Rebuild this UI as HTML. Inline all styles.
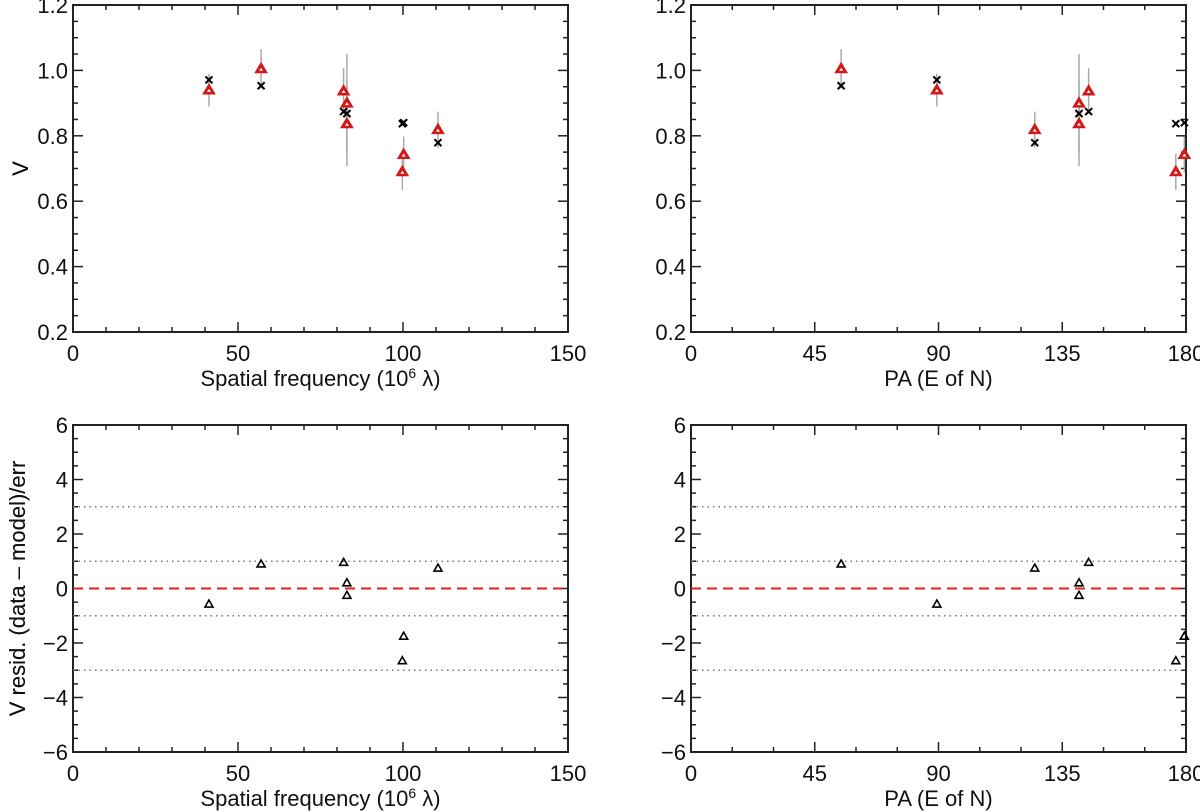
<!DOCTYPE html>
<html><head><meta charset="utf-8"><style>
body{margin:0;background:#fff}
svg{display:block;font-family:"Liberation Sans",Arial,sans-serif}
</style></head><body>
<svg id="chart" width="1200" height="812" viewBox="0 0 1200 812" xmlns="http://www.w3.org/2000/svg"></svg>
<script>
const spatialFreq = [41.2, 57, 82, 83, 83, 99.8, 100.2, 110.6];
const positionAngle = [89.4, 54.6, 144.6, 141.1, 141.1, 176.3, 179.4, 125];
const visData = [0.94, 1.005, 0.937, 0.90, 0.837, 0.69, 0.743, 0.819];
const visErr = [0.05, 0.06, 0.07, 0.15, 0.13, 0.055, 0.055, 0.055];
const visModel = [0.971, 0.953, 0.874, 0.868, 0.868, 0.837, 0.84, 0.779];
const residuals = [-0.57, 0.9, 0.96, 0.21, -0.25, -2.65, -1.75, 0.75];
const freqTicks = [0, 50, 100, 150];
const paTicks = [0, 45, 90, 135, 180];
const visTicks = [0.2, 0.4, 0.6, 0.8, 1.0, 1.2];
const residTicks = [-6, -4, -2, 0, 2, 4, 6];
const residGuides = [-3, -1, 1, 3];

const NS = "http://www.w3.org/2000/svg";
const svg = document.getElementById('chart');
function mk(tag, attrs, parent) {
  const e = document.createElementNS(NS, tag);
  for (const k in attrs) e.setAttribute(k, attrs[k]);
  (parent || svg).appendChild(e);
  return e;
}
function panel(name, left, right, top, bottom, xmin, xmax, ymin, ymax, xTicks, xMinor, yTicks, yMinor, xTitle, yTitle, yDec) {
  const g = mk('g', {});
  
  
  const sx = v => left + (v - xmin) / (xmax - xmin) * (right - left);
  const sy = v => bottom - (v - ymin) / (ymax - ymin) * (bottom - top);
  const frame = mk('rect', {x: left, y: top, width: right - left, height: bottom - top, fill: 'none', stroke: '#222', 'stroke-width': 2}, g);
  
  
  for (let v = xmin; v <= xmax + 1e-9; v += xMinor) {
    const major = xTicks.some(t => Math.abs(t - v) < 1e-6);
    const L = major ? 10 : 5;
    mk('line', {x1: sx(v), x2: sx(v), y1: bottom, y2: bottom - L, stroke: '#222', 'stroke-width': 1.5}, g);
    mk('line', {x1: sx(v), x2: sx(v), y1: top, y2: top + L, stroke: '#222', 'stroke-width': 1.5}, g);
  }
  for (let v = ymin; v <= ymax + 1e-9; v += yMinor) {
    const major = yTicks.some(t => Math.abs(t - v) < 1e-6);
    const L = major ? 10 : 5;
    mk('line', {x1: left, x2: left + L, y1: sy(v), y2: sy(v), stroke: '#222', 'stroke-width': 1.5}, g);
    mk('line', {x1: right, x2: right - L, y1: sy(v), y2: sy(v), stroke: '#222', 'stroke-width': 1.5}, g);
  }
  xTicks.forEach(t => {
    const tx = mk('text', {x: sx(t), y: bottom + 29, 'font-size': 22, 'text-anchor': 'middle', fill: '#111'}, g);
    tx.textContent = t;
    
    
  });
  yTicks.forEach(t => {
    const tx = mk('text', {x: left - 5, y: sy(t) + 8, 'font-size': 22, 'text-anchor': 'end', fill: '#111'}, g);
    tx.textContent = yDec ? t.toFixed(1) : String(t).replace('-', '\u2212');
    
    
  });
  const xt = mk('text', {x: (left + right) / 2, y: bottom + 54, 'font-size': 22, 'text-anchor': 'middle', fill: '#111'}, g);
  xt.innerHTML = xTitle;
  
  
  const yt = mk('text', {x: 0, y: 0, 'font-size': 22, 'text-anchor': 'middle', fill: '#111', transform: `translate(${yDec ? 28 : 25},${(top + bottom) / 2}) rotate(-90)`}, g);
  yt.textContent = yTitle;
  
  
  return {g, sx, sy};
}
function cross(g, x, y) {
  const p = mk('path', {d: `M${x-3.5},${y-3.5}L${x+3.5},${y+3.5}M${x-3.5},${y+3.5}L${x+3.5},${y-3.5}`, stroke: '#000', 'stroke-width': 2}, g);
  
  
}
function redTri(g, x, y) {
  const p = mk('path', {d: `M${x},${y-6}L${x+6},${y+4}L${x-6},${y+4}Z`, fill: '#d41818', stroke: '#d41818', 'stroke-width': 1}, g);
  
  
  mk('path', {d: `M${x},${y-1}L${x+2},${y+2}L${x-2},${y+2}Z`, fill: '#fff'}, g);
}
function blackTri(g, x, y) {
  const p = mk('path', {d: `M${x},${y-4}L${x+4},${y+3}L${x-4},${y+3}Z`, fill: 'none', stroke: '#000', 'stroke-width': 1.6}, g);
  
  
}
function visPanel(name, left, right, xs, xmax, xTicks, xMinor, xTitle) {
  const P = panel(name, left, right, 5, 332, 0, xmax, 0.2, 1.2, xTicks, xMinor, visTicks, 0.05, xTitle, 'V', true);
  xs.forEach((xv, i) => {
    const x = P.sx(xv);
    const eb = mk('line', {x1: x, x2: x, y1: P.sy(visData[i] + visErr[i]), y2: P.sy(visData[i] - visErr[i]), stroke: '#aaa', 'stroke-width': 1.5}, P.g);
    
    
  });
  xs.forEach((xv, i) => cross(P.g, P.sx(xv), P.sy(visModel[i])));
  xs.forEach((xv, i) => redTri(P.g, P.sx(xv), P.sy(visData[i])));
}
function residPanel(name, left, right, xs, xmax, xTicks, xMinor, xTitle) {
  const P = panel(name, left, right, 425, 752, 0, xmax, -6, 6, xTicks, xMinor, residTicks, 0.5, xTitle, 'V resid. (data \u2013 model)/err', false);
  residGuides.forEach(v => {
    const l = mk('line', {x1: left, x2: right, y1: P.sy(v), y2: P.sy(v), stroke: '#777', 'stroke-width': 1.5, 'stroke-dasharray': '1.5 4'}, P.g);
    
    
  });
  const z = mk('line', {x1: left, x2: right, y1: P.sy(0), y2: P.sy(0), stroke: '#e02020', 'stroke-width': 2, 'stroke-dasharray': '10 6'}, P.g);
  
  
  xs.forEach((xv, i) => blackTri(P.g, P.sx(xv), P.sy(residuals[i])));
}
const xfTitle = 'Spatial frequency (10<tspan dy="-8" font-size="14">6</tspan><tspan dy="8"> \u03bb)</tspan>';
visPanel('vis-vs-frequency-panel', 73, 568, spatialFreq, 150, freqTicks, 10, xfTitle);
visPanel('vis-vs-pa-panel', 691, 1186, positionAngle, 180, paTicks, 15, 'PA (E of N)');
residPanel('resid-vs-frequency-panel', 73, 568, spatialFreq, 150, freqTicks, 10, xfTitle);
residPanel('resid-vs-pa-panel', 691, 1186, positionAngle, 180, paTicks, 15, 'PA (E of N)');
</script>
</body></html>
